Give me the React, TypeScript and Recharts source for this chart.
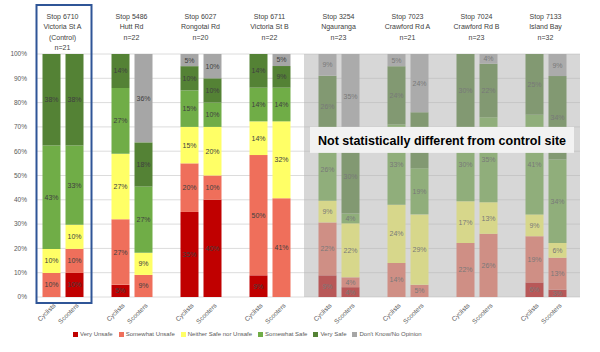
import React from 'react'
import { BarChart, Bar, XAxis, YAxis, CartesianGrid, Legend, LabelList, ReferenceArea } from 'recharts'

// stop headers
const stopNames = ['Stop 6710', 'Stop 5486', 'Stop 6027', 'Stop 6711', 'Stop 3254', 'Stop 7023', 'Stop 7024', 'Stop 7133']
const roadNames = ['Victoria St A', 'Hutt Rd', 'Rongotai Rd', 'Victoria St B', 'Ngauranga', 'Crawford Rd A', 'Crawford Rd B', 'Island Bay']
const stopNotes = ['(Control)', '', '', '', '', '', '', '']
const sampleSizes = [21, 22, 20, 22, 23, 21, 23, 32]
const modes = ['Cyclists', 'Scooters']

// % per stop, cyclists then scooters
const veryUnsafe = [0, 10, 5, 0, 35, 40, 9, 0, 9, 4, 0, 0, 0, 0, 6, 3]
const somewhatUnsafe = [10, 10, 27, 9, 20, 10, 50, 41, 22, 4, 14, 5, 22, 26, 19, 13]
const neither = [10, 10, 27, 9, 15, 20, 14, 32, 9, 22, 24, 29, 17, 13, 9, 6]
const somewhatSafe = [43, 33, 27, 27, 15, 10, 14, 14, 26, 4, 33, 19, 30, 35, 41, 34]
const verySafe = [38, 38, 14, 18, 10, 10, 14, 9, 26, 30, 24, 23, 30, 22, 25, 34]
const dontKnow = [0, 0, 0, 36, 5, 10, 0, 5, 9, 35, 5, 24, 0, 4, 0, 9]

const categories = ['Very Unsafe', 'Somewhat Unsafe', 'Neither Safe nor Unsafe', 'Somewhat Safe', 'Very Safe', "Don't Know/No Opinion"]
const seriesKeys = ['veryUnsafe', 'somewhatUnsafe', 'neither', 'somewhatSafe', 'verySafe', 'dontKnow']
const seriesValues = [veryUnsafe, somewhatUnsafe, neither, somewhatSafe, verySafe, dontKnow]
const colors = ['#c00000', '#ef6f5b', '#ffff66', '#70ad47', '#548235', '#a6a6a6']

const yTicks = [0, 0.1, 0.2, 0.3, 0.4, 0.5, 0.6, 0.7, 0.8, 0.9, 1]

// one slot per bar, plus an empty slot between stops
const rows: any[] = []
stopNames.forEach((_, g) => {
  modes.forEach((mode, m) => {
    const row: any = { key: `${m ? 's' : 'c'}${g}`, mode }
    seriesKeys.forEach((k, s) => { row[k] = seriesValues[s][g * 2 + m] })
    rows.push(row)
  })
  if (g < stopNames.length - 1) rows.push({ key: `gap${g}`, mode: '' })
})

const font = "'Liberation Sans', Arial, sans-serif"

const HeaderTick = ({ x, y, payload }: any) => {
  const key = String(payload.value)
  if (!key.startsWith('c')) return null
  const g = Number(key.slice(1))
  const cx = x + (payload.offset ?? 11.5)
  const lines = [stopNames[g], roadNames[g], stopNotes[g], `n=${sampleSizes[g]}`].filter(Boolean)
  return (
    <text x={cx} y={y - 35} textAnchor='middle' fontSize={7} fill='#404040'>
      {lines.map((l, i) => <tspan key={i} x={cx} dy={i === 0 ? 0 : 10.3}>{l}</tspan>)}
    </text>
  )
}

const ModeTick = ({ x, y, payload }: any) => {
  const row = rows.find((r) => r.key === payload.value)
  if (!row || !row.mode) return null
  const tx = x + 5
  const ty = y + 7
  return (
    <text x={tx} y={ty} transform={`rotate(-45 ${tx} ${ty})`} textAnchor='end' fontSize={6.5} fill='#595959'>
      {row.mode}
    </text>
  )
}

const LegendContent = () => (
  <div style={{ display: 'flex', alignItems: 'center', paddingLeft: 73, fontSize: 6, color: '#595959', fontFamily: font }}>
    {categories.map((c, i) => (
      <span key={c} style={{ display: 'flex', alignItems: 'center', marginRight: 6 }}>
        <span style={{ width: 5, height: 5, background: colors[i], marginRight: 2 }} />
        {c}
      </span>
    ))}
  </div>
)

// grey wash over the stops that don't differ from the control
const Overlay = ({ x, y, width, height }: any) => {
  const half = width / 24
  const left = x + half
  return (
    <g>
      <rect x={left} y={y} width={width} height={height} fill='#b0b0b0' fillOpacity={0.5} />
      <rect x={left + 6} y={y + height * 0.3} width={width - 12} height={26} fill='#f2f2f2' />
      <text x={left + width / 2} y={y + height * 0.3 + 18} textAnchor='middle' fontSize={13.5} fontWeight='bold'
        fill='#000' textLength={248} lengthAdjust='spacingAndGlyphs'>
        Not statistically different from control site
      </text>
    </g>
  )
}

const ControlBox = ({ x, y, width, height }: any) => (
  <rect x={x - 3} y={y - 49} width={width + 9} height={height + 55} fill='none' stroke='#2f5597' strokeWidth={2} />
)

const App = () => {
  return (
    <div style={{ position: 'absolute', left: 0, top: 0, width: 600, height: 352, background: '#fff', fontFamily: font }}>
      <BarChart width={600} height={352} data={rows} stackOffset='expand' margin={{ top: 0, right: 20, bottom: 10, left: 0 }}>
        <CartesianGrid vertical={false} stroke='#dcdcdc' />
        <XAxis dataKey='key' height={30} interval={0} tickLine={false} axisLine={false} tickSize={0}
          padding={{ left: 2.5, right: 11.5 }} tick={<ModeTick />} />
        <XAxis xAxisId='top' dataKey='key' orientation='top' height={54} interval={0} tickLine={false} axisLine={false}
          tickSize={0} tickMargin={0} padding={{ left: 2.5, right: 11.5 }} tick={<HeaderTick />} />
        <YAxis width={37} domain={[0, 1]} ticks={yTicks} tickLine={false} axisLine={false} tickMargin={4}
          tick={{ fontSize: 6.5, fill: '#595959' }} tickFormatter={(v: number) => `${Math.round(v * 100)}%`} />
        <Legend verticalAlign='bottom' align='left' height={15} content={<LegendContent />} wrapperStyle={{ left: 0, width: 600, bottom: 6 }} />
        {seriesKeys.map((k, s) => (
          <Bar key={k} dataKey={k} name={categories[s]} stackId='a' fill={colors[s]} barSize={18} isAnimationActive={false}>
            <LabelList dataKey={k} position='center' fontSize={7} fill='#404040'
              formatter={(v: any) => (v ? `${v}%` : '')} />
          </Bar>
        ))}
        <ReferenceArea x1='c0' x2='s0' ifOverflow='visible' shape={<ControlBox />} />
        <ReferenceArea x1='gap3' x2='s7' ifOverflow='visible' zIndex={2500} shape={<Overlay />} />
      </BarChart>
    </div>
  )
}

export default App
